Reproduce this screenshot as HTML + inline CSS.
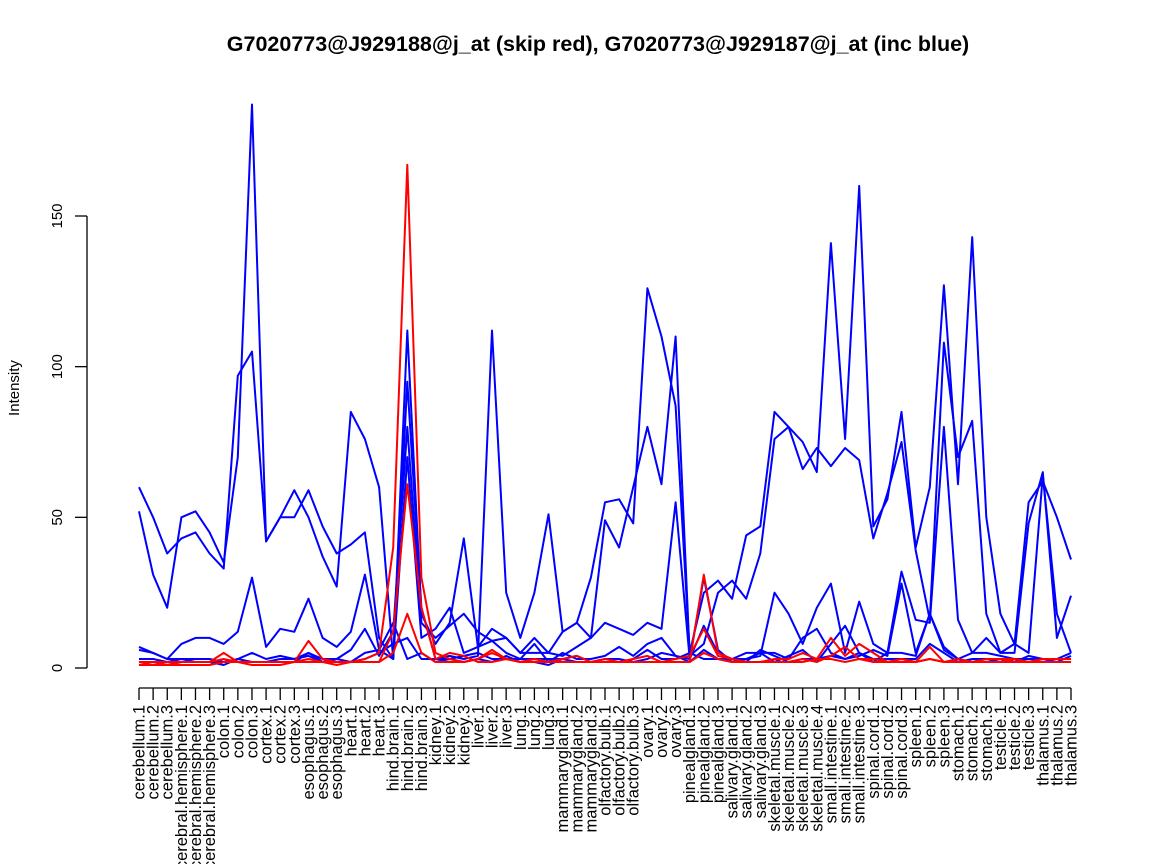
<!DOCTYPE html>
<html><head><meta charset="utf-8"><style>
html,body{margin:0;padding:0;background:#fff;overflow:hidden}
svg{display:block;font-family:"Liberation Sans",sans-serif}
</style></head><body>
<svg id="chart" width="1152" height="864" viewBox="0 0 1152 864">
<text x="598" y="51" text-anchor="middle" font-size="21.5" font-weight="bold">G7020773@J929188@j_at (skip red), G7020773@J929187@j_at (inc blue)</text>
<text transform="translate(19,388) rotate(-90)" text-anchor="middle" font-size="15">Intensity</text>
<g id="yaxis"></g>
<g id="xaxis"></g>
<g id="series"></g>
</svg>
<script>
const groups = ["cerebellum","cerebral.hemisphere","colon","cortex","esophagus","heart","hind.brain","kidney","liver","lung","mammarygland","olfactory.bulb","ovary","pinealgland","salivary.gland","skeletal.muscle","small.intestine","spinal.cord","spleen","stomach","testicle","thalamus"];
const categories = [];
groups.forEach(g => { const n = g === "skeletal.muscle" ? 4 : 3; for (let i = 1; i <= n; i++) categories.push(g + "." + i); });
const yTicks = [0, 50, 100, 150];
const blue1 = [60,50,38, 43,45,38, 33,97,105, 42,50,59, 50,37,27, 85,76,60, 3,95,20, 3,4,3, 4,112,25, 10,25,51, 12,15,30, 55,56,48, 126,110,87, 5,25,29, 23,44,47, 85,80,75,65, 141,76,160, 47,56,85, 40,60,127, 61,143,50, 18,8,55, 62,50,36];
const blue2 = [52,31,20, 50,52,45, 35,70,187, 42,50,50, 59,47,38, 41,45,10, 3,112,18, 8,15,43, 7,9,10, 5,10,5, 12,15,10, 49,40,60, 80,61,110, 4,8,25, 29,23,38, 76,80,66,73, 67,73,69, 43,58,75, 39,16,108, 70,82,18, 5,5,48, 65,10,24];
const blue3 = [6,5,3, 8,10,10, 8,12,30, 7,13,12, 23,10,7, 12,31,6, 3,70,10, 13,20,5, 7,13,10, 5,5,5, 4,7,10, 15,13,11, 15,13,55, 3,30,6, 2,3,4, 25,18,8,20, 28,5,22, 8,5,32, 16,15,80, 16,5,10, 5,8,5, 64,18,5];
const blue4 = [7,5,3, 3,3,3, 2,3,5, 3,4,3, 5,3,3, 6,13,4, 12,80,15, 10,14,18, 12,9,5, 3,8,2, 5,3,3, 4,7,4, 8,10,4, 3,14,5, 3,5,5, 5,3,10,13, 5,3,4, 6,4,28, 5,18,7, 3,5,5, 4,3,3, 3,3,5];
const blue5 = [2,2,1,2,2,2,1,3,2,2, 3,3,4,2,3,2,5,6,15,3, 5,2,3,2,3,2,4,2,2,1, 3,2,2,3,3,2,3,5,4,2, 6,3,3,3,5,2,4,6,2,8, 14,5,2,5,5,4,18,6,3,2, 3,2,3,2,3,2,4];
const blue6 = [3,3,2,3,2,2,2,2,2,2, 2,2,5,2,2,2,3,5,8,10, 3,3,3,4,5,3,3,3,3,3, 3,4,2,2,2,3,6,3,3,5, 3,3,2,2,6,4,2,3,3,4, 3,5,3,3,3,3,8,5,2,3, 3,3,2,4,3,3,3];
const red1 = [2,2,2,2,2,2,3,2,2,2, 2,2,2,2,2,2,3,5,40,167, 30,5,3,2,3,5,3,2,2,2, 2,2,2,2,2,2,2,2,2,2, 31,5,3,2,2,2,2,3,2,4, 7,3,3,2,3,2,3,2,2,2, 2,2,3,2,3,3,3];
const red2 = [1,2,1,2,2,2,5,2,2,2, 2,2,9,3,2,2,2,2,12,61, 20,3,5,4,2,2,3,2,3,2, 3,4,2,3,2,3,4,2,3,4, 13,4,3,2,2,3,3,5,3,10, 4,8,5,2,3,2,7,2,3,2, 3,3,3,2,3,3,3];
const red3 = [1,1,1,1,1,1,2,2,1,1, 1,2,3,2,1,2,2,2,5,18, 5,2,2,2,3,6,3,2,3,2, 2,2,2,2,2,2,2,2,2,2, 5,3,2,2,2,2,2,2,3,3, 2,3,2,2,2,2,3,2,2,2, 2,2,2,2,2,2,2];

const NS = "http://www.w3.org/2000/svg";
const X0 = 139, X1 = 1071, Y0 = 668, PXU = (668 - 216) / 150;
const xs = i => X0 + (X1 - X0) * i / (categories.length - 1);
const ys = v => Y0 - v * PXU;
function mk(tag, attrs, parent) { const e = document.createElementNS(NS, tag); for (const k in attrs) e.setAttribute(k, attrs[k]); parent.appendChild(e); return e; }

const ya = document.getElementById("yaxis");
const yl = mk("line", {x1: 87, x2: 87, y1: ys(yTicks[yTicks.length-1]), y2: ys(yTicks[0]), stroke: "#000", "stroke-width": 1.3}, ya);


yTicks.forEach(t => {
  const tk = mk("line", {x1: 75, x2: 87, y1: ys(t), y2: ys(t), stroke: "#000", "stroke-width": 1.3}, ya);
  
  
  const lb = mk("text", {transform: `translate(62,${ys(t)}) rotate(-90)`, "text-anchor": "middle", "font-size": 15}, ya);
  lb.textContent = t;
  
  
});

const xa = document.getElementById("xaxis");
const xl = mk("line", {x1: X0, x2: X1, y1: 688, y2: 688, stroke: "#000", "stroke-width": 1.3}, xa);


categories.forEach((c, i) => {
  const tk = mk("line", {x1: xs(i), x2: xs(i), y1: 688, y2: 700, stroke: "#000", "stroke-width": 1.3}, xa);
  
  
  const lb = mk("text", {transform: `translate(${xs(i) + 5.5},705) rotate(-90)`, "text-anchor": "end", "font-size": 16.5}, xa);
  lb.textContent = c;
  
  
});

const sg = document.getElementById("series");
const all = [[blue1,"#0000ff"],[blue2,"#0000ff"],[blue3,"#0000ff"],[blue4,"#0000ff"],[blue5,"#0000ff"],[blue6,"#0000ff"],[red3,"#ff0000"],[red2,"#ff0000"],[red1,"#ff0000"]];
all.forEach(([arr, col]) => {
  const pts = arr.map((v, i) => xs(i).toFixed(1) + "," + ys(v).toFixed(1)).join(" ");
  const pl = mk("polyline", {points: pts, fill: "none", stroke: col, "stroke-width": 2, "stroke-linejoin": "round"}, sg);
  
  
});
</script>
</body></html>
